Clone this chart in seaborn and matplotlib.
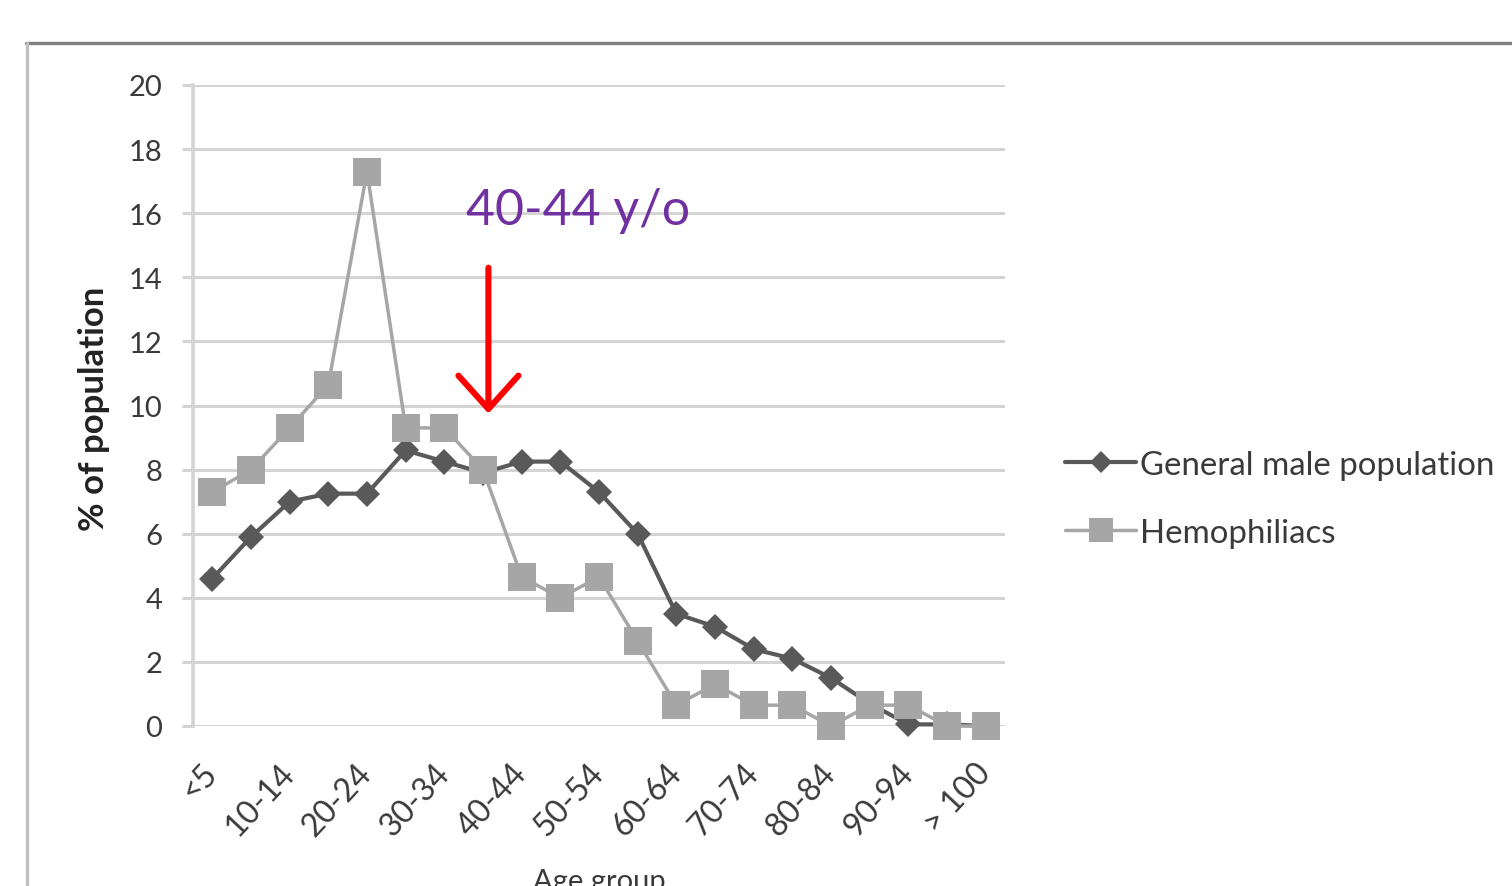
import numpy as np
import pandas as pd
import matplotlib
matplotlib.use('Agg')
import matplotlib.pyplot as plt
import seaborn as sns
from matplotlib.lines import Line2D

# ---------------- data ----------------
age_groups = ['<5', '5-9', '10-14', '15-19', '20-24', '25-29', '30-34', '35-39',
              '40-44', '45-49', '50-54', '55-59', '60-64', '65-69', '70-74',
              '75-79', '80-84', '85-89', '90-94', '95-99', '> 100']
general_male = [4.6, 5.9, 7.0, 7.25, 7.25, 8.6, 8.25, 7.9, 8.25, 8.25, 7.3,
                6.0, 3.5, 3.1, 2.4, 2.1, 1.5, 0.7, 0.05, 0.05, 0.0]
hemophiliacs = [7.3, 8.0, 9.3, 10.65, 17.3, 9.3, 9.3, 8.0, 4.65, 4.0, 4.65,
                2.65, 0.65, 1.3, 0.65, 0.65, 0.0, 0.65, 0.65, 0.0, 0.0]
series_names = ['General male population', 'Hemophiliacs']
y_ticks = list(range(0, 21, 2))
annotation_text = '40-44 y/o'
y_label = '% of population'
x_label = 'Age group'

# ---------------- style ----------------
sns.set_style('white')
plt.rcParams['font.family'] = ['Lato', 'DejaVu Sans']

dark = '#595959'
light = '#A6A6A6'
grid_c = '#D4D4D4'
text_c = '#3a3a3a'

fig = plt.figure(figsize=(15.12, 8.87), dpi=100)
ax = fig.add_axes([193/1512, 1-727/887, (1005-193)/1512, (727-86)/887])

pos = np.arange(len(age_groups))
df_gen = pd.DataFrame({'pos': pos, 'value': general_male})
df_hem = pd.DataFrame({'pos': pos, 'value': hemophiliacs})

sns.lineplot(data=df_gen, x='pos', y='value', ax=ax, color=dark, lw=3.0,
             marker='D', markersize=13.5, markeredgewidth=0, label=series_names[0],
             clip_on=False, zorder=3)
sns.lineplot(data=df_hem, x='pos', y='value', ax=ax, color=light, lw=2.5,
             marker='s', markersize=19.5, markeredgewidth=0, label=series_names[1],
             clip_on=False, zorder=4)

ax.set_xlim(-0.5, len(age_groups) - 0.5)
ax.set_ylim(0, 20)
ax.set_yticks(y_ticks)
ax.set_yticklabels([str(v) for v in y_ticks], fontsize=21, color=text_c)
ax.set_xticks(pos[::2])
ax.set_xticklabels(age_groups[::2], rotation=47, ha='right', va='center',
                   rotation_mode='anchor', fontsize=23, color=text_c)
ax.tick_params(axis='x', length=0, pad=30)
ax.tick_params(axis='y', length=8, width=2.2, color=grid_c, pad=14, left=True)

ax.grid(axis='y', color=grid_c, lw=2.2)
ax.grid(axis='x', visible=False)
ax.set_axisbelow(True)
for s in ['top', 'right', 'bottom']:
    ax.spines[s].set_visible(False)
ax.spines['left'].set_color(grid_c)
ax.spines['left'].set_linewidth(2.6)

ax.set_ylabel(y_label, fontsize=25, fontweight='bold', color='#222222')
ax.yaxis.set_label_coords(-0.102, 0.497)
ax.set_xlabel(x_label, fontsize=21, color=text_c, va='top')
ax.xaxis.set_label_coords(0.5, -0.222)

# annotation
ax.annotate('', xy=(7.14, 9.75), xytext=(7.14, 14.3),
            arrowprops=dict(arrowstyle='->, head_length=0.4, head_width=0.36',
                            color='#FF0000', lw=4.4, mutation_scale=60,
                            shrinkA=0, shrinkB=0))
ax.text(9.45, 16.1, annotation_text, color='#7030A0', fontsize=36,
        ha='center', va='center')

# legend
handles, labels = ax.get_legend_handles_labels()
leg = ax.legend(handles, labels, loc='upper left',
                bbox_to_anchor=(1065/1512, 1-451/887), bbox_transform=fig.transFigure,
                frameon=False, fontsize=23.8, handlelength=2.15, handletextpad=0.12,
                labelspacing=1.15, borderpad=0, borderaxespad=0)
for t in leg.get_texts():
    t.set_color(text_c)
lh = leg.legend_handles
lh[0].set_markersize(11)
lh[1].set_markersize(17)

# frame of the original figure
fig.add_artist(Line2D([26/1512, 1], [1-43.5/887, 1-43.5/887], color='#808080', lw=2.4,
                      transform=fig.transFigure))
fig.add_artist(Line2D([27/1512, 27/1512], [0, 1-43.5/887], color='#C0C0C0', lw=2.4,
                      transform=fig.transFigure))

fig.savefig('out.png', dpi=100)
